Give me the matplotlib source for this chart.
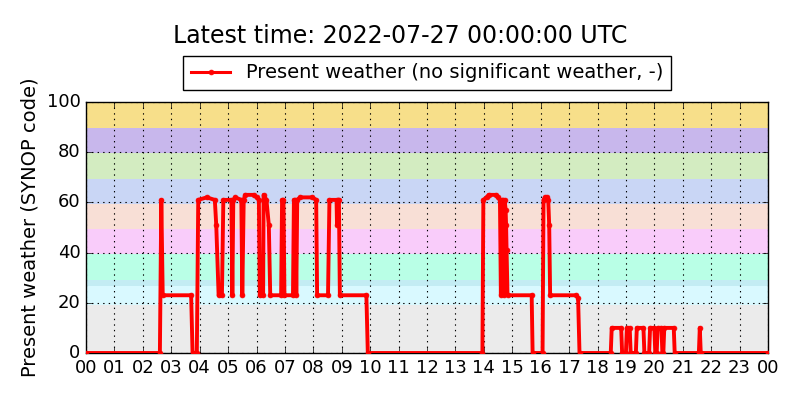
import matplotlib
matplotlib.use("Agg")
import matplotlib.pyplot as plt
import matplotlib.dates as mdates
import pandas as pd

plt.style.use('classic')

# Present weather (SYNOP ww code) through the day
day = "2022-07-26"
times = [
    "00:00", "02:36", "02:39", "02:42", "03:42", "03:45", "03:54", "03:57",
    "04:15", "04:32", "04:35", "04:40", "04:47", "04:50", "05:07", "05:09",
    "05:11", "05:15", "05:28", "05:30", "05:33", "05:36", "05:54", "06:00",
    "06:05", "06:07", "06:14", "06:15", "06:21", "06:26", "06:29", "06:52",
    "06:54", "06:57", "06:59", "07:17", "07:19", "07:22", "07:24", "07:26",
    "07:32", "07:58", "08:06", "08:08", "08:31", "08:34", "08:49", "08:50",
    "08:52", "08:54", "08:56", "09:52", "09:55", "13:57", "13:59", "14:06",
    "14:10", "14:26", "14:30", "14:34", "14:36", "14:38", "14:40", "14:42",
    "14:44", "14:46", "14:47", "14:48", "14:50", "15:41", "15:43", "16:04",
    "16:06", "16:09", "16:14", "16:16", "16:18", "16:20", "17:15", "17:19",
    "17:22", "18:28", "18:30", "18:50", "18:52", "19:00", "19:02", "19:08",
    "19:10", "19:21", "19:23", "19:37", "19:39", "19:49", "19:51", "20:00",
    "20:02", "20:05", "20:07", "20:15", "20:17", "20:19", "20:21", "20:41",
    "20:43", "21:34", "21:36", "21:38",
]
values = [
    0, 0, 61, 23, 23, 0, 0, 61,
    62, 61, 51, 23, 23, 61, 61, 23,
    61, 62, 61, 23, 61, 63, 63, 62,
    61, 23, 23, 63, 61, 51, 23, 23,
    61, 61, 23, 23, 61, 61, 23, 61,
    62, 62, 61, 23, 23, 61, 61, 51,
    61, 61, 23, 23, 0, 0, 61, 62,
    63, 63, 62, 61, 23, 61, 61, 23,
    61, 57, 51, 41, 23, 23, 0, 0,
    61, 62, 62, 61, 51, 23, 23, 22,
    0, 0, 10, 10, 0, 0, 10, 10,
    0, 0, 10, 10, 0, 0, 10, 10,
    0, 0, 10, 10, 0, 0, 10, 10,
    0, 0, 10, 0,
]
end_time = "2022-07-27 00:00"

t = pd.to_datetime([day + " " + s for s in times] + [end_time])
v = values + [0]

# colour bands for the ww code groups
bands = [
    (0, 19, '#ebebeb'),
    (19, 26.5, '#d9f9ff'),
    (26.5, 29, '#c3ecf3'),
    (29, 39.5, '#b9ffe6'),
    (39.5, 49.5, '#f9ccfa'),
    (49.5, 59.5, '#f8dfd6'),
    (59.5, 69.5, '#c9d6f5'),
    (69.5, 79.5, '#d3ecc1'),
    (79.5, 89.5, '#c8b7ec'),
    (89.5, 100, '#f7df8a'),
]

fig = plt.figure(figsize=(8, 4), dpi=100, facecolor='white')
ax = fig.add_axes([0.1075, 0.1175, 0.8525, 0.6275])

for lo, hi, c in bands:
    ax.axhspan(lo, hi, color=c, lw=0, zorder=0)

ax.plot(t, v, 'r.-', lw=2.8, ms=7, mec='r',
        label='Present weather (no significant weather, -)', zorder=3)

ax.set_xlim(pd.Timestamp(day), pd.Timestamp(end_time))
ax.set_ylim(0, 100)
ax.set_yticks(range(0, 101, 20))
ax.xaxis.set_major_locator(mdates.HourLocator())
ax.xaxis.set_major_formatter(mdates.DateFormatter('%H'))
ax.tick_params(labelsize=13)
ax.grid(True, color='k', linestyle=':', lw=0.8)
ax.set_axisbelow(False)
ax.set_ylabel('Present weather (SYNOP code)', fontsize=14)

leg = ax.legend(loc='lower center', bbox_to_anchor=(0.5, 1.008), numpoints=1,
                fontsize=14, frameon=True, fancybox=False)
for line in leg.get_lines():
    line.set_linewidth(2.2)
fig.text(0.5, 0.893, 'Latest time: 2022-07-27 00:00:00 UTC', ha='center',
         fontsize=17)

fig.savefig('out.png', dpi=100, facecolor='white')
